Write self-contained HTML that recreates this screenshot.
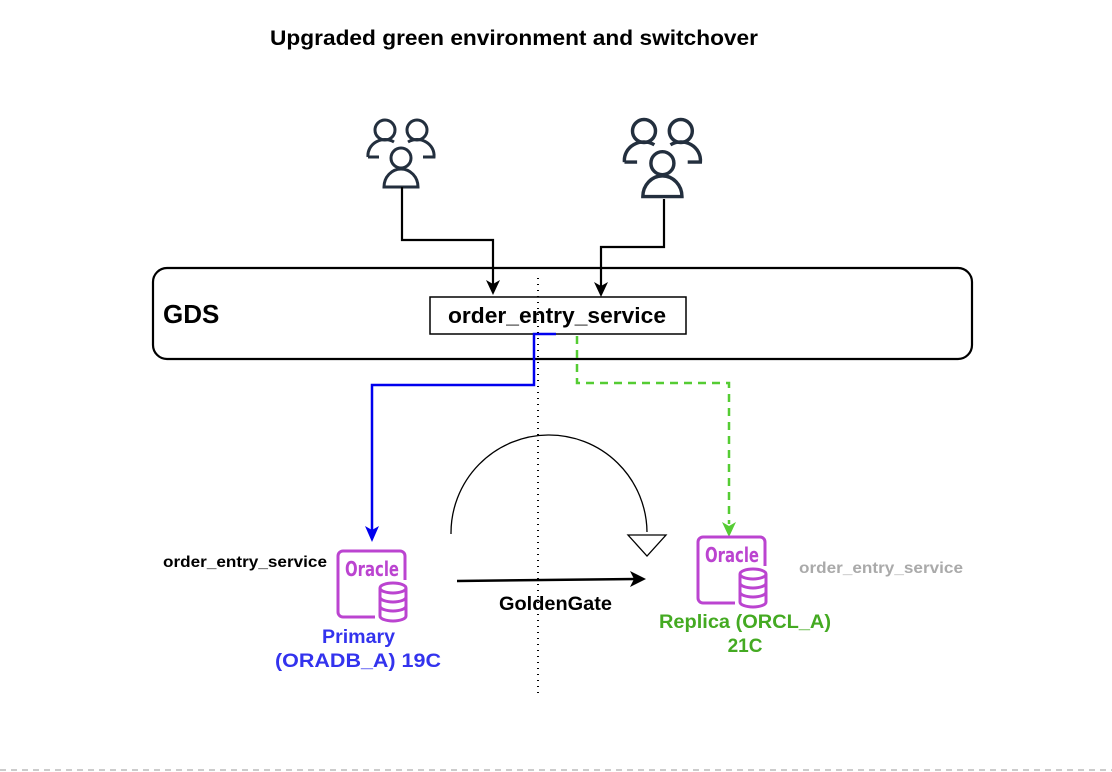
<!DOCTYPE html>
<html><head><meta charset="utf-8"><style>
body{margin:0;background:#fff;width:1112px;height:772px;overflow:hidden;font-family:"Liberation Sans",Arial,sans-serif}
svg{position:absolute;left:0;top:0}
</style></head><body>
<svg width="1112" height="772" viewBox="0 0 1112 772" xmlns="http://www.w3.org/2000/svg" font-family="Liberation Sans, Arial, sans-serif">
<defs>
<g id="users" fill="none" stroke="#232f3e" stroke-width="3">
 <circle cx="0" cy="0" r="10"/>
 <path d="M-17,27 A17,16 0 0 1 9,12 M-17,27 L-6,27"/>
 <circle cx="32" cy="0" r="10"/>
 <path d="M23,12 A17,16 0 0 1 49,27 L38,27"/>
 <circle cx="16" cy="28" r="10"/>
 <path d="M-1,57 A17,18 0 0 1 33,57 Z" fill="#fff"/>
</g>
<g id="ora">
 <path d="M38,67 L6,67 A5,5 0 0 1 1,62 L1,6 A5,5 0 0 1 6,1 L63,1 A5,5 0 0 1 68,6 L68,30" fill="none" stroke="#bb44d0" stroke-width="3"/>
 <text x="8" y="26" font-size="20" font-weight="bold" fill="#bb44d0" textLength="54" lengthAdjust="spacingAndGlyphs" font-family="DejaVu Sans Condensed, DejaVu Sans, sans-serif">Oracle</text>
 <g fill="none" stroke="#bb44d0" stroke-width="3">
  <ellipse cx="56" cy="38" rx="13" ry="5" fill="#fff"/>
  <path d="M43,38 L43,66 A13,5 0 0 0 69,66 L69,38"/>
  <path d="M43,47 A13,5 0 0 0 69,47 M43,56 A13,5 0 0 0 69,56"/>
 </g>
</g>
</defs>
<text x="270" y="45" font-size="21" font-weight="bold" fill="#000" textLength="488" lengthAdjust="spacingAndGlyphs">Upgraded green environment and switchover</text>
<use href="#users" x="385" y="130"/>
<g transform="translate(644 131) scale(1.15)"><use href="#users"/></g>
<rect x="153" y="268" width="819" height="91" rx="14" fill="#fff" stroke="#000" stroke-width="2.2"/>
<text x="163" y="323" font-size="26" font-weight="bold">GDS</text>
<path d="M402,187 L402,240 L493,240 L493,284" fill="none" stroke="#000" stroke-width="2.2"/>
<path d="M486,280 L493,295 L500,280 L493,284 Z" fill="#000"/>
<path d="M664,199 L664,247 L601,247 L601,286" fill="none" stroke="#000" stroke-width="2.2"/>
<path d="M594,282 L601,297 L608,282 L601,286 Z" fill="#000"/>
<rect x="430" y="297" width="256" height="37" fill="#fff" stroke="#000" stroke-width="1.5"/>
<text x="448" y="323" font-size="22" font-weight="bold" textLength="218" lengthAdjust="spacingAndGlyphs">order_entry_service</text>
<line x1="538" y1="278" x2="538" y2="695" stroke="#000" stroke-width="2" stroke-dasharray="1,5"/>
<path d="M556,334 L534,334 L534,385 L372,385 L372,530" fill="none" stroke="#0000ee" stroke-width="2.5"/>
<path d="M365,526 L372,542 L379,526 L372,530 Z" fill="#0000ee"/>
<path d="M577,336 L577,383 L729,383 L729,524" fill="none" stroke="#55cc33" stroke-width="2.5" stroke-dasharray="8,6"/>
<path d="M722,522 L729,537 L736,522 L729,526 Z" fill="#55cc33"/>
<path d="M451,534 A98,98 0 0 1 647,532" fill="none" stroke="#000" stroke-width="1.3"/>
<path d="M628,535 L666,535 L647,556 Z" fill="#fff" stroke="#000" stroke-width="1.3"/>
<path d="M457,581 L636,579" stroke="#000" stroke-width="2.5"/>
<path d="M630,571 L646,579 L630,587 L634,579 Z" fill="#000"/>
<text x="499" y="610" font-size="19" font-weight="bold" textLength="113" lengthAdjust="spacingAndGlyphs">GoldenGate</text>
<use href="#ora" x="337" y="550"/>
<use href="#ora" x="697" y="536"/>
<text x="163" y="567" font-size="16" font-weight="bold" textLength="164" lengthAdjust="spacingAndGlyphs">order_entry_service</text>
<text x="799" y="573" font-size="16" font-weight="bold" fill="#aaaaaa" textLength="164" lengthAdjust="spacingAndGlyphs">order_entry_service</text>
<text x="322" y="643" font-size="19" font-weight="bold" fill="#3333ee" textLength="73" lengthAdjust="spacingAndGlyphs">Primary</text>
<text x="275" y="667" font-size="19" font-weight="bold" fill="#3333ee" textLength="166" lengthAdjust="spacingAndGlyphs">(ORADB_A) 19C</text>
<text x="659" y="628" font-size="19" font-weight="bold" fill="#44aa22" textLength="172" lengthAdjust="spacingAndGlyphs">Replica (ORCL_A)</text>
<text x="745" y="652" font-size="19" font-weight="bold" fill="#44aa22" text-anchor="middle">21C</text>
<line x1="0" y1="770" x2="1112" y2="770" stroke="#bbb" stroke-width="1.5" stroke-dasharray="6,5"/>
</svg>
</body></html>
